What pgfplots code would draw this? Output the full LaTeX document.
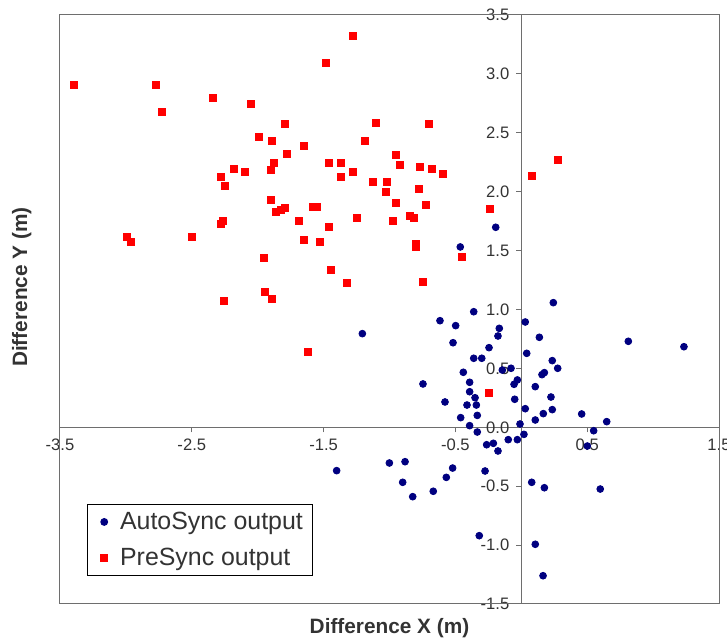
\documentclass[border=0pt]{standalone}
\usepackage{fontspec}
\setmainfont{Liberation Sans}
\usepackage{pgfplots}
\pgfplotsset{compat=1.18}
\definecolor{autoblue}{HTML}{000080}
\definecolor{presred}{HTML}{FF0000}
\definecolor{framegray}{HTML}{6E6E6E}
\definecolor{txtgray}{HTML}{333333}

\begin{document}
\begin{tikzpicture}
% page = 727x641 px, 1 px = 0.5pt, plot area 659x589 px
\useasboundingbox (-30pt,-18.5pt) rectangle (333.5pt,302pt);
\begin{axis}[
    at={(0,0)}, anchor=south west,
    scale only axis,
    width=329.5pt, height=294.5pt,
    xmin=-3.5, xmax=1.5,
    ymin=-1.5, ymax=3.5,
    axis lines=middle,
    axis line style={-, framegray},
    clip=false,
    xtick={-3.5,-2.5,-1.5,-0.5,0.5,1.5},
    ytick={-1.5,-1,-0.5,0,0.5,1,1.5,2,2.5,3,3.5},
    hide obscured x ticks=false,
    hide obscured y ticks=false,
    tick align=outside,
    major tick length=2.5pt,
    tick style={framegray, line width=0.5pt},
    /pgf/number format/assume math mode=true,
    /pgf/number format/.cd, fixed, fixed zerofill, precision=1, /pgfplots/.cd,
    tick label style={font=\fontsize{8.3}{10}\selectfont, text=txtgray},
    xlabel={Difference X (m)},
    ylabel={Difference Y (m)},
    xlabel style={at={(axis description cs:0.5,-0.041)}, anchor=center,
        font=\bfseries\fontsize{10.4}{12}\selectfont, text=txtgray},
    ylabel style={at={(axis description cs:-0.058,0.538)}, anchor=center, rotate=90,
        font=\bfseries\fontsize{10.4}{12}\selectfont, text=txtgray},
    legend style={at={(0.041,0.0475)}, anchor=south west,
        draw=black, line width=0.5pt,
        font=\fontsize{12.45}{14}\selectfont, text=txtgray,
        inner xsep=2.8pt, inner ysep=1.5pt, row sep=4pt},
    legend cell align=left,
    legend image code/.code={\path (0pt,0pt) (11pt,0pt);
        \draw plot coordinates {(5.3pt,0pt)};},
]
\draw[framegray, line width=0.5pt] (rel axis cs:0,0) rectangle (rel axis cs:1,1);

\addplot[only marks, mark=*, mark size=1.7pt, draw=autoblue, fill=autoblue] coordinates {
(-0.617,0.905) (-0.498,0.863) (-0.361,0.981) (-0.167,0.840) (-0.177,0.775)
(0.030,0.894) (0.243,1.058) (-0.518,0.718) (-0.245,0.676) (0.137,0.764)
(0.041,0.628) (-0.361,0.586) (-0.300,0.586) (0.235,0.566) (0.276,0.501)
(-0.144,0.486) (-0.078,0.501) (-0.440,0.467) (0.157,0.447) (0.175,0.464)
(-0.746,0.368) (-0.392,0.382) (-0.030,0.402) (-0.055,0.365) (0.106,0.345)
(-0.392,0.302) (-0.351,0.251) (0.225,0.257) (-0.050,0.238) (-0.579,0.215)
(-0.412,0.189) (-0.341,0.189) (0.030,0.158) (0.235,0.150) (0.167,0.116)
(-0.334,0.101) (-0.460,0.082) (0.106,0.062) (-0.392,0.014) (-0.010,0.028)
(-0.334,-0.040) (0.020,-0.060) (-0.263,-0.148) (-0.212,-0.136) (-0.099,-0.105)
(-0.030,-0.105) (-0.177,-0.201) (-1.001,-0.303) (-0.882,-0.292) (-0.521,-0.346)
(-0.569,-0.425) (-0.900,-0.467) (-0.824,-0.589) (-0.668,-0.543) (-0.275,-0.371)
(0.079,-0.467) (0.175,-0.513) (-0.319,-0.920) (0.106,-0.993) (0.165,-1.260)
(-1.401,-0.368) (-1.206,0.795) (-0.463,1.531) (-0.194,1.698) (0.812,0.730)
(1.234,0.684) (0.458,0.113) (0.648,0.048) (0.549,-0.029) (0.501,-0.159)
(0.599,-0.524)
};
\addlegendentry{AutoSync output}

\addplot[only marks, mark=square*, mark size=1.75pt, draw=presred, fill=presred] coordinates {
(-3.392,2.903) (-2.774,2.903) (-2.341,2.795) (-2.726,2.674) (-2.048,2.742)
(-1.795,2.575) (-1.990,2.464) (-1.894,2.433) (-1.775,2.323) (-1.874,2.246)
(-2.178,2.193) (-2.099,2.170) (-1.901,2.182) (-2.276,2.127) (-2.246,2.048)
(-1.901,1.930) (-1.864,1.828) (-1.826,1.842) (-1.795,1.862) (-2.266,1.751)
(-2.276,1.728) (-2.992,1.618) (-2.961,1.576) (-2.501,1.618) (-1.952,1.435)
(-1.942,1.146) (-1.894,1.092) (-2.256,1.072) (-1.616,0.642) (-1.275,3.322)
(-1.482,3.093) (-1.100,2.586) (-0.698,2.575) (-1.646,2.388) (-1.186,2.433)
(-1.461,2.246) (-1.370,2.246) (-1.370,2.127) (-1.275,2.170) (-0.951,2.312)
(-0.920,2.224) (-0.766,2.212) (-0.678,2.193) (-0.597,2.148) (-1.128,2.082)
(-1.019,2.082) (-1.029,1.995) (-0.774,2.026) (-0.951,1.907) (-0.725,1.884)
(-1.580,1.873) (-1.550,1.873) (-1.687,1.751) (-1.461,1.698) (-1.244,1.774)
(-0.971,1.751) (-0.845,1.796) (-0.814,1.774) (-1.646,1.587) (-1.530,1.576)
(-0.801,1.556) (-0.801,1.528) (-1.442,1.335) (-1.325,1.225) (-0.746,1.236)
(-0.452,1.445) (-0.235,1.851) (0.079,2.133) (0.276,2.266) (-0.245,0.291)
};
\addlegendentry{PreSync output}
\end{axis}
\end{tikzpicture}
\end{document}
